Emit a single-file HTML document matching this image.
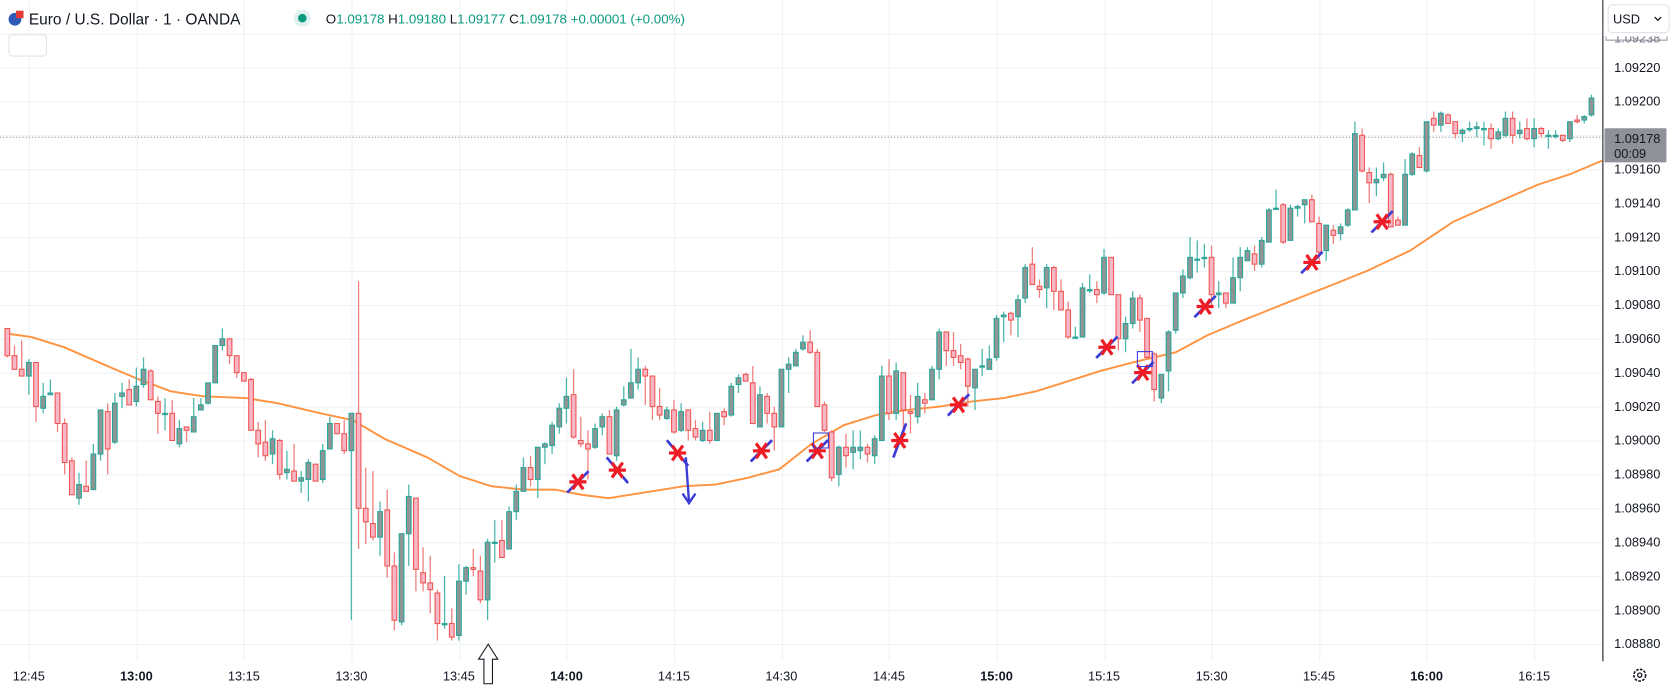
<!DOCTYPE html>
<html><head><meta charset="utf-8"><style>
html,body{margin:0;padding:0;background:#fff;width:1675px;height:688px;overflow:hidden;font-family:"Liberation Sans",sans-serif}
svg{display:block}
text{font-family:"Liberation Sans",sans-serif}
</style></head><body>
<svg id="chart" width="1675" height="688" viewBox="0 0 1568 644" preserveAspectRatio="none" xmlns="http://www.w3.org/2000/svg" style="overflow:hidden">
<rect x="0" y="0" width="1568" height="644" fill="#fff"/>
<g id="grid"></g>
<line x1="0" x2="1500" y1="128.5" y2="128.5" stroke="#9598a1" stroke-dasharray="1,2"/>
<g id="ma"></g>
<g id="candles"></g>
<g id="marks"></g>
<rect x="1501" y="0" width="67" height="644" fill="#fff"/>
<rect x="0" y="619" width="1501" height="25" fill="#fff"/>
<line x1="1500.5" y1="0" x2="1500.5" y2="619" stroke="#131722"/>
<g id="yaxis"></g>
<g id="xaxis"></g>
<g>
 <circle cx="14" cy="18" r="6" fill="#2f5bb7"/>
 <rect x="15" y="10" width="7" height="7" fill="#e53935"/>
 <text x="27" y="23" font-size="14.5" fill="#131722">Euro / U.S. Dollar · 1 · OANDA</text>
 <circle cx="283" cy="17" r="8" fill="#e0f2ef"/>
 <circle cx="283" cy="17" r="4" fill="#089981"/>
 <text x="305" y="22" font-size="12.5" fill="#089981"><tspan fill="#131722">O</tspan>1.09178 <tspan fill="#131722">H</tspan>1.09180 <tspan fill="#131722">L</tspan>1.09177 <tspan fill="#131722">C</tspan>1.09178 +0.00001 (+0.00%)</text>
 <rect x="8.5" y="32.5" width="35" height="20" rx="3" fill="#fff" stroke="#e0e3eb"/>
</g>
<g>
 <rect x="1505.5" y="4.5" width="57" height="26" rx="4" fill="#fff" stroke="#e0e3eb"/>
 <text x="1510" y="22" font-size="12" fill="#131722">USD</text>
 <path d="M1549 16 l3 3 l3 -3" fill="none" stroke="#131722" stroke-width="1.2"/>
</g>
<g>
 <path d="M453 640 V617 H448 L457 603 L466 617 H461 V640 Z" fill="#fff" stroke="#131722" stroke-width="1"/>
</g>
<g>
 <circle cx="1535" cy="632" r="5.5" fill="none" stroke="#131722" stroke-width="1.5" stroke-dasharray="2.5,1.2"/>
 <circle cx="1535" cy="632" r="2" fill="none" stroke="#131722" stroke-width="1.2"/>
</g>
</svg>
<script>
// Prices stored as points (0.00001) above BASE
const BASE = 1.089;
const opens = [166,150,142,138,146,119,127,128,110,88,66,73,71,92,117,99,126,130,123,133,141,123,116,116,98,108,105,118,122,134,156,160,150,140,136,106,99,92,100,81,82,76,77,86,77,95,110,104,94,116,60,51,43,59,26,-7,45,66,22,16,10,-8,-8,-15,17,25,23,6,40,41,36,58,70,84,77,96,97,108,119,127,100,98,96,108,114,91,121,125,134,142,138,120,113,118,106,118,107,100,106,100,117,115,133,139,134,108,126,116,108,142,144,154,158,152,121,105,80,96,93,94,96,91,100,138,116,140,117,114,124,124,142,164,153,150,148,131,144,142,149,173,175,173,184,204,191,190,202,188,177,161,161,189,189,187,208,186,160,169,184,172,151,125,141,165,187,196,207,208,208,186,187,181,196,206,210,204,217,237,239,218,237,239,242,228,212,224,222,227,236,280,258,252,255,257,230,227,257,268,259,290,286,292,288,281,284,284,284,284,278,280,290,281,284,278,284,280,280,280,278,289,289,292];
const closes = [150,142,138,146,120,126,128,110,87,68,74,70,92,118,95,122,128,121,132,142,124,116,116,100,107,106,114,121,134,156,160,150,140,135,106,98,91,101,80,83,76,78,87,76,94,110,104,94,116,60,52,43,58,26,-6,45,67,24,16,12,-8,-8,-16,17,25,24,6,40,40,31,58,70,84,77,96,98,109,119,126,102,98,95,107,114,92,118,124,134,142,138,120,115,118,105,117,106,102,106,100,116,114,132,137,135,110,127,116,108,142,145,152,158,152,120,106,78,96,91,96,96,92,101,138,116,141,118,116,126,122,142,164,153,149,146,132,142,144,148,172,174,171,183,202,192,189,202,188,177,161,161,190,189,186,208,186,160,169,184,171,149,130,139,164,187,197,208,207,208,186,187,181,196,208,212,204,218,236,237,217,237,238,242,229,211,227,221,226,236,281,259,252,254,257,226,227,257,269,261,288,286,293,287,281,283,284,285,284,278,282,290,280,283,278,284,281,280,280,277,288,288,291,302];
const highs = [166,156,159,148,146,134,136,128,113,90,81,88,98,118,122,128,134,136,143,149,142,126,125,124,112,108,125,125,134,156,166,160,150,140,137,111,112,106,101,94,98,82,89,86,98,114,110,112,116,194,84,82,64,71,34,45,74,66,37,32,12,20,1,27,26,36,32,42,53,53,61,74,90,91,96,99,111,122,137,142,114,106,110,116,118,120,132,154,149,144,138,131,120,124,122,118,112,111,117,116,119,134,139,140,144,132,128,120,142,149,154,162,165,154,123,106,97,104,106,106,98,103,144,148,146,140,127,134,128,144,166,164,164,157,149,142,154,156,174,176,176,186,204,214,195,204,203,195,182,167,193,198,194,213,208,186,173,188,186,172,152,139,165,187,201,220,218,216,215,194,187,208,214,214,215,220,237,248,240,239,239,242,245,232,227,227,228,237,288,284,261,261,264,258,232,266,270,273,288,294,294,293,288,284,288,288,288,287,284,294,294,288,290,290,285,283,283,280,288,292,292,304];
const lows = [149,142,138,127,111,116,127,105,80,68,62,70,71,88,80,98,119,121,120,131,124,104,106,100,96,99,105,118,121,134,153,145,137,135,106,90,88,86,77,77,76,69,64,76,75,95,104,92,-6,36,39,41,32,19,-12,-9,26,11,11,-2,-18,-11,-18,-18,9,20,4,-6,28,31,36,53,70,73,66,86,92,104,110,101,96,77,95,103,92,88,120,125,130,121,112,112,112,104,105,100,100,99,98,100,109,114,128,135,110,108,110,94,108,128,144,153,151,120,105,76,73,84,83,89,87,86,100,112,112,104,104,110,116,124,136,144,144,142,120,118,138,142,147,158,162,161,181,192,184,178,177,177,160,160,161,187,181,186,186,153,152,166,164,148,123,122,129,163,184,195,199,202,178,178,178,181,188,206,200,202,217,237,216,218,232,228,229,206,206,216,218,226,236,258,240,244,253,226,227,227,256,261,258,282,282,287,278,276,282,279,274,272,277,279,275,278,277,273,279,272,278,276,276,287,287,291];
const maIndex = [0,3.4,7.9,13.9,18.4,22.8,27.3,33.3,37.7,43.7,48.2,52.6,58.6,63.1,67.5,72,76.4,80.1,83.9,88.4,94.4,98.8,103.3,107.7,112.2,116.7,121.2,125.6,130.1,134.6,139,143.5,148,152.5,157,160,163,167.4,171.9,177.8,183.8,189.7,195.7,201.7,207.6,213.6,218,222.5];
const maValue = [163,161,155,144,136,129,126,125,122,116,112,101,90,79,73,71,71,68,66,69,73,74,78,83,98,109,115,118,120,123,125,129,135,141,146,149,152,162,170,180,190,200,212,229,240,251,257,265];
const timeLabels = ["12:45","13:00","13:15","13:30","13:45","14:00","14:15","14:30","14:45","15:00","15:15","15:30","15:45","16:00","16:15"];
const timeLabelIndex = [3,18,33,48,63,78,93,108,123,138,153,168,183,198,213];
const priceTicks = [1.0922,1.0920,1.0916,1.0914,1.0912,1.0910,1.0908,1.0906,1.0904,1.0902,1.0900,1.0898,1.0896,1.0894,1.0892,1.0890,1.0888];
const markIndex = [79.6,85.1,93.5,105.2,113,124.5,132.7,153.4,158.4,167.1,182,191.8];
const markValue = [75.6,82.5,92.6,93.9,93.9,100,121,155,140,179,205,229];
const markSlant = [1,-1,-1,1,1,2,1,1,1,1,1,1];
const boxIndex = [113.5,158.7];
const boxValue = [100,148];

const NS="http://www.w3.org/2000/svg";
const xOf = i => 27 + (i-3)*6.71;
const yOf = p => 571 - p*1.587;
const yPrice = v => yOf((v-BASE)*100000);
function mk(tag, attrs, parent){const e=document.createElementNS(NS,tag);for(const k in attrs)e.setAttribute(k,attrs[k]);parent.appendChild(e);return e;}

const grid=document.getElementById('grid');
for(let k=-1;k<18;k++){const y=yOf(320-20*k)+0.5;
 const l=mk('line',{x1:0,x2:1500,y1:y,y2:y,stroke:'#eef1f6','stroke-width':1},grid);
 
 }
timeLabelIndex.forEach(i=>{const x=Math.round(xOf(i))+0.5;
 const l=mk('line',{x1:x,x2:x,y1:0,y2:619,stroke:'#eef1f6','stroke-width':1},grid);
 
 });

let d='';maIndex.forEach((i,k)=>{d+=(k?'L':'M')+xOf(i).toFixed(1)+' '+yOf(maValue[k]).toFixed(1);});
const ma=mk('path',{d:d,fill:'none',stroke:'#ff9340','stroke-width':1.8},document.getElementById('ma'));



const cg=document.getElementById('candles');
for(let i=0;i<closes.length;i++){
 const o=opens[i],c=closes[i],up=c>=o;
 const h=Math.max(highs[i],o,c),lo=Math.min(lows[i],o,c);
 const x=xOf(i);
 const g=mk('g',{},cg);
 
 
 const col=up?'#26a69a':'#ef5350';
 mk('line',{x1:x,x2:x,y1:yOf(h),y2:yOf(lo),stroke:up?'#4db6ac':'#ef7f7d','stroke-width':1.2},g);
 const top=yOf(Math.max(o,c)),bot=yOf(Math.min(o,c));
 mk('rect',{x:x-2.2,y:top,width:4.4,height:Math.max(1.2,bot-top),fill:up?'#8f9595':'#f8b7c6',stroke:col,'stroke-width':1},g);
}

const mg=document.getElementById('marks');
markIndex.forEach((i,k)=>{
 const x=xOf(i),y=yOf(markValue[k]),s=markSlant[k];
 const g=mk('g',{},mg);
 
 
 let dx=10,dy=-10;if(s===-1){dx=10;dy=12;}if(s===2){dx=6;dy=-16;}
 mk('line',{x1:x-dx,y1:y-dy,x2:x+dx,y2:y+dy,stroke:'#3b3bd6','stroke-width':2.5},g);
 mk('line',{x1:x-8,y1:y,x2:x+8,y2:y,stroke:'#ee1c25','stroke-width':3},g);
 mk('line',{x1:x-5,y1:y-7,x2:x+5,y2:y+7,stroke:'#ee1c25','stroke-width':3},g);
 mk('line',{x1:x+5,y1:y-7,x2:x-5,y2:y+7,stroke:'#ee1c25','stroke-width':3},g);
});
const ag=mk('g',{},mg);


mk('path',{d:'M642 428 L645 470 M639 462 L645 471 L651 462',fill:'none',stroke:'#3b3bd6','stroke-width':2.2},ag);
boxIndex.forEach((i,k)=>{
 const b=mk('rect',{x:xOf(i)-7,y:yOf(boxValue[k])-7,width:14,height:14,fill:'none',stroke:'#3b3bd6','stroke-width':1},mg);
 
 
});

const ya=document.getElementById('yaxis');
const tb=mk('rect',{x:1503.5,y:yPrice(1.09238)-12,width:57,height:15,fill:'#fff',stroke:'#9598a1'},ya);


const tt=mk('text',{x:1511,y:40,'font-size':12,fill:'#787b86'},ya);tt.textContent='1.09238';


mk('rect',{x:1501,y:0,width:67,height:34,fill:'#fff'},ya);
priceTicks.forEach(v=>{
 const t=mk('text',{x:1511,y:(yPrice(v)+4).toFixed(1),'font-size':12,fill:'#131722'},ya);
 t.textContent=v.toFixed(5);
 
 
});
const pl=mk('g',{},ya);


mk('rect',{x:1502,y:120,width:58,height:32,fill:'#8e9199',rx:1},pl);
const p1=mk('text',{x:1511,y:134,'font-size':12,fill:'#131722'},pl);p1.textContent='1.09178';
const p2=mk('text',{x:1511,y:148,'font-size':12,fill:'#131722'},pl);p2.textContent='00:09';

const xa=document.getElementById('xaxis');
timeLabels.forEach((s,k)=>{
 const bold=s.endsWith(':00');
 const t=mk('text',{x:xOf(timeLabelIndex[k]).toFixed(1),y:637,'font-size':12,'text-anchor':'middle',fill:'#131722','font-weight':bold?'bold':'normal'},xa);
 t.textContent=s;
 
 
});
</script>
</body></html>
